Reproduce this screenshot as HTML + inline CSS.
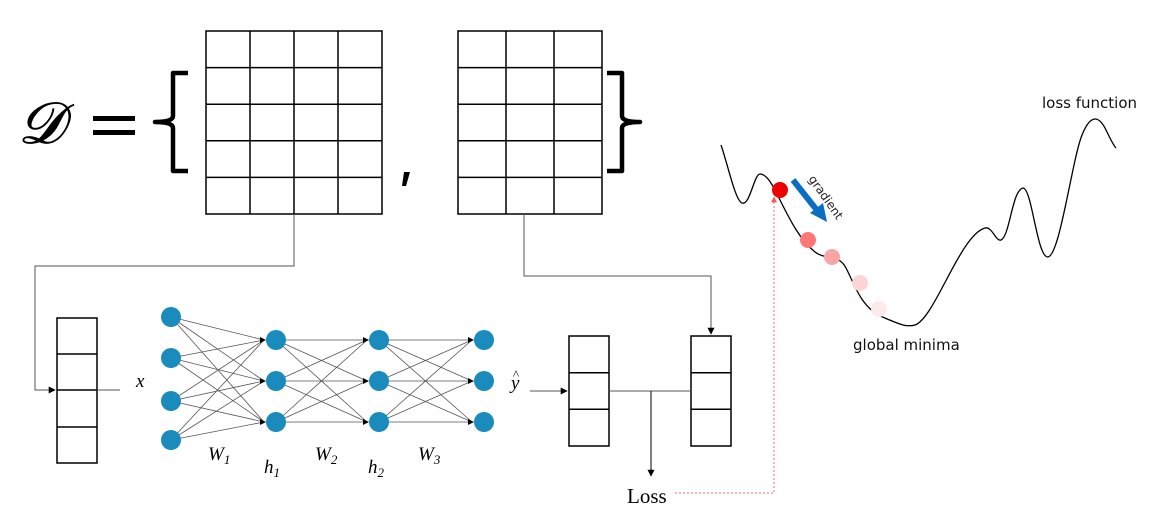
<!DOCTYPE html>
<html><head><meta charset="utf-8"><style>
body{margin:0;background:#fff;width:1157px;height:529px;overflow:hidden}
svg{display:block}
</style></head><body>
<svg width="1157" height="529" viewBox="0 0 1157 529" xmlns="http://www.w3.org/2000/svg">
<defs>
<marker id="a" viewBox="0 0 10 10" refX="9" refY="5" markerWidth="7" markerHeight="7" orient="auto"><path d="M0,0L10,5L0,10z" fill="#000"/></marker>
<marker id="r" viewBox="0 0 10 10" refX="9" refY="5" markerWidth="6" markerHeight="6" orient="auto"><path d="M0,0L10,5L0,10z" fill="#f55"/></marker>
</defs>
<text x="18" y="143" font-family="Liberation Serif, serif" font-style="italic" font-size="58" stroke="#000" stroke-width="1">𝒟</text>
<rect x="93" y="116" width="42" height="5" fill="#000"/>
<rect x="93" y="130" width="42" height="5" fill="#000"/>
<path d="M188,73H173V116Q173,122 155,122Q173,122 173,128V171H188" fill="none" stroke="#000" stroke-width="4.5" stroke-linejoin="round"/>
<path d="M607,73H622V116Q622,122 640,122Q622,122 622,128V171H607" fill="none" stroke="#000" stroke-width="4.5" stroke-linejoin="round"/>
<path d="M404,172L410,172L406,186L402,186Z" fill="#000"/>
<g fill="none" stroke="#000" stroke-width="1.5">
<rect x="206" y="31" width="176" height="183"/>
<path d="M250,31V214M294,31V214M338,31V214M206,67.6H382M206,104.2H382M206,140.8H382M206,177.4H382"/>
<rect x="458" y="31" width="144" height="183"/>
<path d="M506,31V214M554,31V214M458,67.6H602M458,104.2H602M458,140.8H602M458,177.4H602"/>
<rect x="57" y="318" width="40" height="145"/>
<path d="M57,354H97M57,390H97M57,427H97"/>
<rect x="569" y="336" width="40" height="110"/>
<path d="M569,372.7H609M569,409.3H609"/>
<rect x="691" y="336" width="40" height="110"/>
<path d="M691,372.7H731M691,409.3H731"/>
</g>
<g fill="none" stroke="#555" stroke-width="1">
<path d="M294,214V266H35V390H55" marker-end="url(#a)"/>
<path d="M97,390H120"/>
<path d="M524,214V276H711V334" marker-end="url(#a)"/>
<path d="M530,391H567" marker-end="url(#a)"/>
<path d="M609,391H691"/>
<path d="M651,391V476" marker-end="url(#a)" stroke="#000"/>
</g>
<path d="M675,493H774V197" fill="none" stroke="#f66" stroke-width="1" stroke-dasharray="2,2" marker-end="url(#r)"/>
<g stroke="#555" stroke-width="0.8" fill="none">
<path d="M171,317L264,340M171,317L264,381M171,317L264,422M171,358L264,340M171,358L264,381M171,358L264,422M171,401L264,340M171,401L264,381M171,401L264,422M171,440L264,340M171,440L264,381M171,440L264,422"/>
<path d="M276,340L367,340M276,340L367,381M276,340L367,422M276,381L367,340M276,381L367,381M276,381L367,422M276,422L367,340M276,422L367,381M276,422L367,422"/>
<path d="M379,340L472,340M379,340L472,381M379,340L472,422M379,381L472,340M379,381L472,381M379,381L472,422M379,422L472,340M379,422L472,381M379,422L472,422"/>
</g>
<g fill="#000">
<path d="M266,340l-6,-3v6z"/><path d="M266,381l-6,-3v6z"/><path d="M266,422l-6,-3v6z"/>
<path d="M369,340l-6,-3v6z"/><path d="M369,381l-6,-3v6z"/><path d="M369,422l-6,-3v6z"/>
<path d="M474,340l-6,-3v6z"/><path d="M474,381l-6,-3v6z"/><path d="M474,422l-6,-3v6z"/>
</g>
<g fill="#1a8bbd">
<circle cx="171" cy="317" r="10"/><circle cx="171" cy="358" r="10"/><circle cx="171" cy="401" r="10"/><circle cx="171" cy="440" r="10"/>
<circle cx="276" cy="340" r="10"/><circle cx="276" cy="381" r="10"/><circle cx="276" cy="422" r="10"/>
<circle cx="379" cy="340" r="10"/><circle cx="379" cy="381" r="10"/><circle cx="379" cy="422" r="10"/>
<circle cx="484" cy="340" r="10"/><circle cx="484" cy="381" r="10"/><circle cx="484" cy="422" r="10"/>
</g>
<g font-family="Liberation Serif, serif" font-style="italic" font-size="19" fill="#000">
<text x="136" y="387">x</text>
<text x="511" y="389">y</text><text x="513" y="379" font-size="13" font-style="normal">^</text>
<text x="208" y="460">W<tspan font-size="13" dy="4">1</tspan></text>
<text x="264" y="473">h<tspan font-size="13" dy="4">1</tspan></text>
<text x="315" y="460">W<tspan font-size="13" dy="4">2</tspan></text>
<text x="368" y="473">h<tspan font-size="13" dy="4">2</tspan></text>
<text x="418" y="460">W<tspan font-size="13" dy="4">3</tspan></text>
</g>
<text x="627" y="503" font-family="Liberation Serif, serif" font-size="21">Loss</text>
<path d="M721,145C728,165 735,200 742,203C750,206 754,174 760,174C768,174 775,190 780,200C790,220 800,240 815,252C825,260 838,253 846,268C855,285 860,305 880,316C895,322 905,328 915,325C935,318 960,235 985,228C992,226 996,242 1001,240C1010,236 1012,190 1023,188C1032,188 1037,258 1048,257C1060,255 1072,160 1082,135C1090,115 1098,115 1105,128C1110,138 1113,145 1116,148" fill="none" stroke="#000" stroke-width="1.3"/>
<circle cx="879" cy="309" r="8" fill="#fdeaea"/>
<circle cx="860" cy="283" r="8" fill="#fbd5d5"/>
<circle cx="832" cy="257" r="8" fill="#f9a5a5"/>
<circle cx="808" cy="240" r="8" fill="#f77"/>
<circle cx="780" cy="190" r="8" fill="#e00"/>
<path d="M793,180L816,209" stroke="#0a6fc2" stroke-width="6"/>
<path d="M810,213L827,222L823,203Z" fill="#0a6fc2"/>
<text transform="translate(808,179) rotate(55)" font-family="DejaVu Sans, sans-serif" font-size="12" fill="#222">gradient</text>
<text x="1042" y="108" font-family="DejaVu Sans, sans-serif" font-size="15" fill="#111">loss function</text>
<text x="853" y="350" font-family="DejaVu Sans, sans-serif" font-size="15" fill="#111">global minima</text>
</svg>
</body></html>
